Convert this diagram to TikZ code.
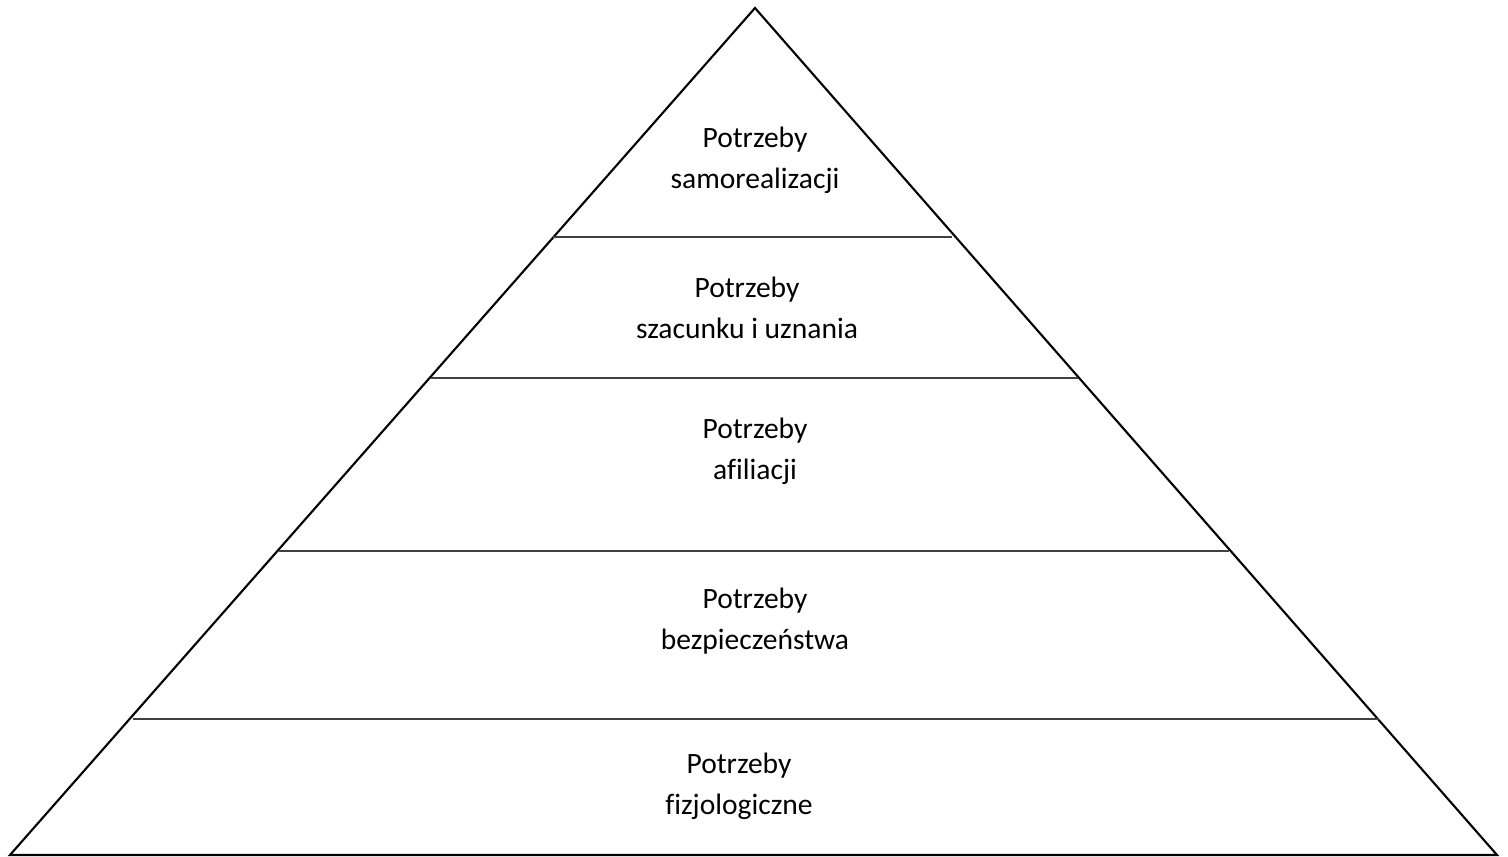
\documentclass[tikz,border=0pt]{standalone}
\usepackage{fontspec}
\setmainfont{Carlito}[Ligatures=NoCommon]
\usepackage{tikz}

\tikzset{
    level/.style={align=center, font=\fontsize{16.8}{23.2}\selectfont},
    divider/.style={draw=black!75, line width=0.6pt}
}

\begin{document}
\begin{tikzpicture}[x=0.02cm, y=-0.02cm]
    \useasboundingbox (0,0) rectangle (1508,857);

    \coordinate (apex) at (755,8);
    \coordinate (bl) at (10,855);
    \coordinate (br) at (1497,855);

    \coordinate (l1) at (553,237);
    \coordinate (r1) at (952,237);
    \coordinate (l2) at (431,378);
    \coordinate (r2) at (1078,378);
    \coordinate (l3) at (279,551);
    \coordinate (r3) at (1229,551);
    \coordinate (l4) at (133,719);
    \coordinate (r4) at (1379,719);

    \node[level] (self) at (755,160) {Potrzeby\\samorealizacji};
    \node[level] (esteem) at (747,308) {Potrzeby\\szacunku i uznania};
    \node[level] (love) at (755,451) {Potrzeby\\afiliacji};
    \node[level] (safety) at (755,621) {Potrzeby\\bezpieczeństwa};
    \node[level] (body) at (739,786) {Potrzeby\\fizjologiczne};

    \draw[line width=1.2pt, line join=miter] (bl) -- (apex) -- (br) -- cycle;

    \path[divider] (l1) edge (r1);
    \path[divider] (l2) edge (r2);
    \path[divider] (l3) edge (r3);
    \path[divider] (l4) edge (r4);

\end{tikzpicture}
\end{document}
